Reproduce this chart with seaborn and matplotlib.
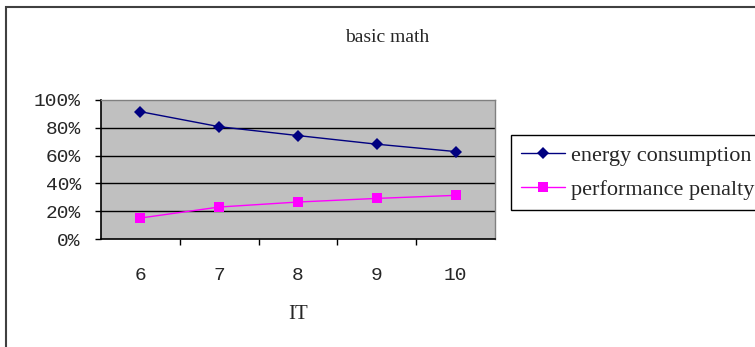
import matplotlib
matplotlib.use("Agg")
import matplotlib.pyplot as plt
import seaborn as sns
import pandas as pd
from matplotlib.patches import Rectangle
from matplotlib.ticker import FixedLocator, FuncFormatter

it_values = [6, 7, 8, 9, 10]
energy_consumption = [91.6, 80.8, 74.4, 68.2, 62.9]
performance_penalty = [15.1, 23.0, 26.6, 29.2, 31.4]
y_ticks = [0, 20, 40, 60, 80, 100]
series_names = ["energy consumption", "performance penalty"]

df = pd.DataFrame({
    "IT": it_values * 2,
    "value": energy_consumption + performance_penalty,
    "series": [series_names[0]] * len(it_values) + [series_names[1]] * len(it_values),
})

sns.set_theme(style="white")
plt.rcParams["font.family"] = ["Liberation Serif", "DejaVu Serif"]

fig = plt.figure(figsize=(7.55, 3.47), dpi=100)
ax = fig.add_axes([101 / 755, 1 - 239 / 347, 394 / 755, 139 / 347])
ax.set_facecolor("#C0C0C0")

sns.lineplot(
    data=df, x="IT", y="value", hue="series", style="series",
    palette={series_names[0]: "#000080", series_names[1]: "#FF00FF"},
    markers={series_names[0]: "D", series_names[1]: "s"},
    dashes=False, markersize=6.5, linewidth=1.0, ax=ax,
    markeredgewidth=0, legend=True,
)

ax.set_xlim(5.5, 10.5)
ax.set_ylim(0, 100)
ax.set_yticks(y_ticks)
ax.yaxis.set_major_formatter(FuncFormatter(lambda v, p: f"{int(v)}%"))
for y in y_ticks[1:-1]:
    ax.axhline(y, color="black", lw=1.0, zorder=0.5)

ax.set_xticks(it_values)
ax.set_xticklabels([str(v) for v in it_values])
ax.xaxis.set_minor_locator(FixedLocator([6.5, 7.5, 8.5, 9.5]))
ax.tick_params(axis="x", which="major", length=0, pad=20, labelsize=14)
ax.tick_params(axis="x", which="minor", length=4, width=1, color="black", direction="out", bottom=True)
ax.tick_params(axis="y", which="major", length=4, width=1, color="black", direction="out", left=True, pad=10.5, labelsize=14)
for lab in ax.get_xticklabels() + ax.get_yticklabels():
    lab.set_family(["Liberation Mono", "DejaVu Sans Mono"])

for s in ["left", "bottom"]:
    ax.spines[s].set_color("black")
    ax.spines[s].set_linewidth(1.2)
for s in ["top", "right"]:
    ax.spines[s].set_color("#808080")
    ax.spines[s].set_linewidth(1.0)

ax.set_xlabel("IT", fontsize=15, labelpad=15)
ax.set_ylabel("")

fig.text(387 / 755, 1 - 37 / 347, "basic math", ha="center", va="center", fontsize=14)

leg = ax.legend(
    loc="upper left", bbox_to_anchor=(511 / 755, 1 - 135 / 347),
    bbox_transform=fig.transFigure, frameon=True, fancybox=False,
    edgecolor="black", framealpha=1, fontsize=16, handlelength=2.0,
    handletextpad=0.27, borderpad=0.45, labelspacing=0.62, borderaxespad=0,
)
leg.get_frame().set_linewidth(1.0)

fig.patches.append(Rectangle((6 / 755, -0.1), 1.2, 1 - 7 / 347 + 0.1,
                             transform=fig.transFigure, fill=False,
                             edgecolor="#404040", linewidth=1.5))

fig.savefig("out.png", dpi=100, facecolor="white")
